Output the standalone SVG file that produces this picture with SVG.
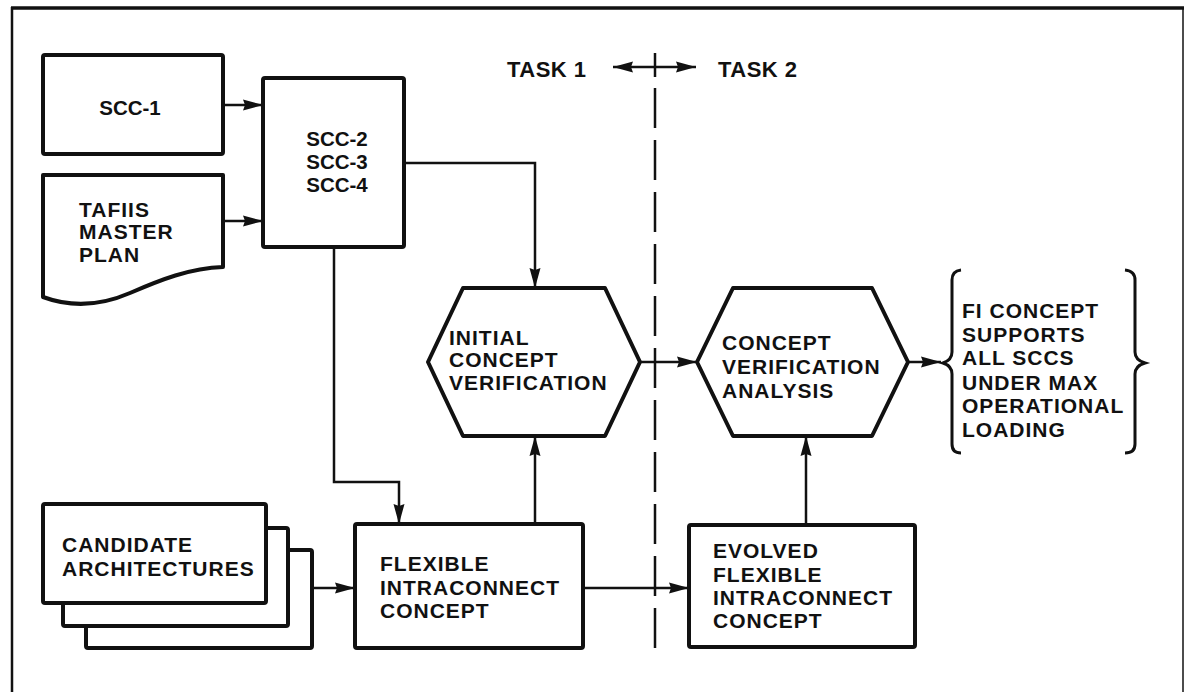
<svg xmlns="http://www.w3.org/2000/svg" width="1184" height="692" viewBox="0 0 1184 692">
<style>
text{font-family:"Liberation Sans",Arial,sans-serif;font-weight:bold;font-size:21px;letter-spacing:1px;fill:#111}
.scc{letter-spacing:0;font-size:20.5px}
.task{font-size:22px;letter-spacing:0.5px}
.box{fill:#fff;stroke:#111;stroke-width:4;stroke-linejoin:round}
.con{fill:none;stroke:#111;stroke-width:2.5}
.frame{fill:none;stroke:#111}
</style>
<defs>
<marker id="ah" markerUnits="userSpaceOnUse" markerWidth="20" markerHeight="12" refX="20" refY="6" orient="auto">
<path d="M0,0.5 L20,6 L0,11.5 L2,6 Z" fill="#111"/>
</marker>
<marker id="ahs" markerUnits="userSpaceOnUse" markerWidth="20" markerHeight="12" refX="0" refY="6" orient="auto">
<path d="M20,0.5 L0,6 L20,11.5 L18,6 Z" fill="#111"/>
</marker>
</defs>
<rect width="1184" height="692" fill="#fff"/>
<g id="frame">
<line class="frame" x1="11" y1="8" x2="1184" y2="8" stroke-width="3.5"/>
<line class="frame" x1="12" y1="7" x2="12" y2="692" stroke-width="2.5"/>
<line class="frame" x1="1183" y1="8" x2="1183" y2="692" stroke-width="1.5"/>
</g>
<g id="connectors">
<line class="con" x1="223" y1="105" x2="263" y2="105" marker-end="url(#ah)"/>
<line class="con" x1="223" y1="221" x2="263" y2="221" marker-end="url(#ah)"/>
<polyline class="con" points="404,163 535,163 535,288" marker-end="url(#ah)"/>
<polyline class="con" points="334,247 334,482 399,482 399,524" marker-end="url(#ah)"/>
<line class="con" x1="535" y1="524" x2="535" y2="436" marker-end="url(#ah)"/>
<line class="con" x1="312" y1="588" x2="355" y2="588" marker-end="url(#ah)"/>
<line class="con" x1="583" y1="588" x2="689" y2="588" marker-end="url(#ah)"/>
<line class="con" x1="806" y1="525" x2="806" y2="436" marker-end="url(#ah)"/>
<line class="con" x1="640" y1="362" x2="697" y2="362" marker-end="url(#ah)"/>
<line class="con" x1="908" y1="362" x2="941" y2="362" marker-end="url(#ah)"/>
<line class="con" x1="613" y1="67" x2="696" y2="67" marker-start="url(#ahs)" marker-end="url(#ah)"/>
<line class="con" x1="655" y1="53" x2="655" y2="77" stroke-width="3"/>
<line class="con" x1="655" y1="88" x2="655" y2="653" stroke-width="3.5" stroke-dasharray="40 12"/>
</g>
<g id="task-labels">
<text class="task" x="507" y="77">TASK 1</text>
<text class="task" x="718" y="77">TASK 2</text>
</g>
<g id="scc1">
<rect class="box" x="43" y="55" width="180" height="99" rx="2"/>
<text class="scc" x="130" y="115" text-anchor="middle">SCC-1</text>
</g>
<g id="scc234">
<rect class="box" x="263" y="78" width="141" height="169" rx="2"/>
<text class="scc" x="337" y="146" text-anchor="middle">SCC-2</text>
<text class="scc" x="337" y="169" text-anchor="middle">SCC-3</text>
<text class="scc" x="337" y="192" text-anchor="middle">SCC-4</text>
</g>
<g id="tafiis">
<path class="box" d="M43,175 H223 V267 C190,268 160,280 130,293 C100,306 70,307 43,297 Z"/>
<text x="79" y="217">TAFIIS</text>
<text x="79" y="239">MASTER</text>
<text x="79" y="262">PLAN</text>
</g>
<g id="initial">
<polygon class="box" points="463,288 605,288 640,362 605,436 463,436 428,362"/>
<text x="449" y="345">INITIAL</text>
<text x="449" y="367">CONCEPT</text>
<text x="449" y="390">VERIFICATION</text>
</g>
<g id="cva">
<polygon class="box" points="733,288 872,288 908,362 872,436 733,436 697,362"/>
<text x="722" y="350">CONCEPT</text>
<text x="722" y="374">VERIFICATION</text>
<text x="722" y="398">ANALYSIS</text>
</g>
<g id="result">
<path fill="none" stroke="#111" stroke-width="3" d="M961,270 Q952,271 952,280 V352 Q952,360 943,363 Q952,366 952,374 V444 Q952,453 961,453"/>
<path fill="none" stroke="#111" stroke-width="3" d="M1125,270 Q1135,271 1135,280 V352 Q1135,360 1145,363 Q1135,366 1135,374 V444 Q1135,453 1125,453"/>
<text x="962" y="318">FI CONCEPT</text>
<text x="962" y="342">SUPPORTS</text>
<text x="962" y="365">ALL SCCS</text>
<text x="962" y="390">UNDER MAX</text>
<text x="962" y="413">OPERATIONAL</text>
<text x="962" y="437">LOADING</text>
</g>
<g id="candidates">
<rect class="box" x="86" y="550" width="226" height="98" rx="2"/>
<rect class="box" x="63" y="528" width="225" height="98" rx="2"/>
<rect class="box" x="43" y="504" width="223" height="99" rx="2"/>
<text x="62" y="552">CANDIDATE</text>
<text x="62" y="576">ARCHITECTURES</text>
</g>
<g id="fi">
<rect class="box" x="355" y="524" width="228" height="124" rx="2"/>
<text x="380" y="571">FLEXIBLE</text>
<text x="380" y="595">INTRACONNECT</text>
<text x="380" y="618">CONCEPT</text>
</g>
<g id="evolved">
<rect class="box" x="689" y="525" width="226" height="122" rx="2"/>
<text x="713" y="558">EVOLVED</text>
<text x="713" y="582">FLEXIBLE</text>
<text x="713" y="605">INTRACONNECT</text>
<text x="713" y="628">CONCEPT</text>
</g>
</svg>
